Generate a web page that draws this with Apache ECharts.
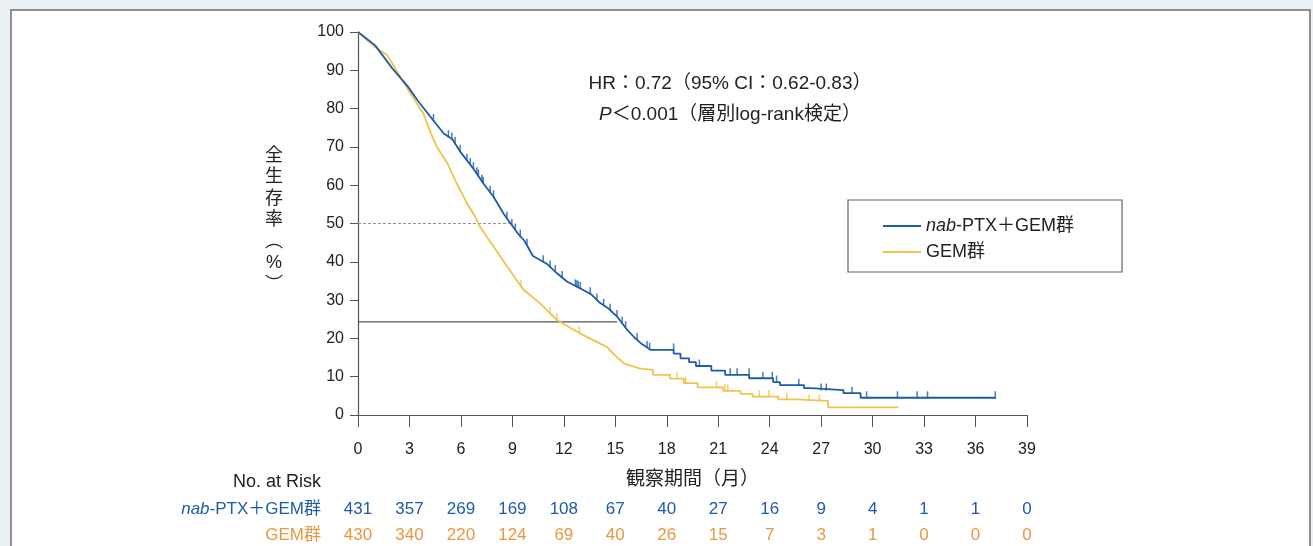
<!DOCTYPE html>
<html>
<head>
<meta charset="utf-8">
<script src="https://cdn.jsdelivr.net/npm/echarts@6/dist/echarts.min.js"></script>
<style>
    html, body {
        margin: 0;
        padding: 0;
        background: #eaeff4;
    }
    #main {
        width: 1313px;
        height: 546px;
    }
</style>
</head>
<body>
<div id="main"></div>
<script>
    // KM curve vertices [month, %]
    const nabCurve = [
        [0, 100], [1, 96.5], [2, 90.5], [2.9, 85.8], [3.5, 82], [4.2, 78], [5, 73.5], [5.5, 72],
        [6, 68.5], [6.7, 64.5], [7.3, 60.5], [7.9, 57], [8.5, 52.5], [8.9, 50], [9.3, 47.5],
        [9.7, 45.5], [10.2, 41.5], [11, 39.5], [11.6, 37], [12.2, 34.8], [13.1, 32.7], [13.6, 31.5],
        [14.1, 29.3], [14.6, 27.8], [15.1, 25.7], [15.7, 22.2], [16.1, 20.3], [16.5, 18.7],
        [16.8, 17.8], [17.05, 17],
        [18.4, 17], [18.4, 16], [18.8, 16], [18.8, 14.8], [19.3, 14.8], [19.3, 13.8], [19.7, 13.8],
        [19.7, 12.8], [20.6, 12.8], [20.6, 11.6], [21.4, 11.6], [21.4, 10.5], [22.8, 10.5],
        [22.8, 9.6], [24.2, 9.6], [24.2, 8.6], [24.6, 8.6], [24.6, 7.8], [26.0, 7.8], [26.0, 7.0],
        [26.4, 7.0], [26.4, 6.5], [28.3, 6.5], [28.3, 5.7], [29.3, 5.7], [29.3, 4.5], [37.2, 4.5]
    ];
    const gemCurve = [
        [0, 100], [1, 96], [1.7, 94], [2.45, 88.4], [3.05, 84], [3.8, 78.8], [4.3, 73], [4.6, 70],
        [5.2, 65.8], [5.75, 60.5], [6.35, 55.3], [6.8, 52], [7.1, 49.2], [7.9, 44], [8.7, 38.7],
        [9.2, 35.5], [9.65, 32.7], [10.6, 29.2], [11.1, 27], [11.6, 24.8], [12.6, 22.2],
        [13.5, 20], [14.5, 17.8], [15.0, 15.5], [15.5, 13.5], [16.4, 12.2], [16.5, 11.8],
        [17.2, 11.8], [17.2, 10.5], [18.2, 10.5], [18.2, 9.5], [19.0, 9.5], [19.0, 8.3],
        [19.8, 8.3], [19.8, 7.2], [21.3, 7.2], [21.3, 6.3], [22.3, 6.3], [22.3, 5.5], [23.0, 5.5],
        [23.0, 4.8], [24.5, 4.8], [24.5, 4.1], [25.5, 4.1], [25.5, 3.7], [27.4, 3.7], [27.4, 2.0],
        [31.5, 2.0]
    ];
    // censoring times (months)
    const nabCensor = [4.4, 5.27, 5.47, 5.66, 5.95, 6.35, 6.54, 6.73, 6.93, 7.02, 7.22, 7.3, 7.7, 7.9,
        8.68, 8.97, 9.17, 9.46, 9.85, 10.8, 11.2, 11.5, 11.9, 12.67, 12.76, 12.84, 12.96,
        13.54, 13.93, 14.32, 14.7, 15.1, 15.4, 15.6, 16.27, 16.85, 17.0, 18.4, 19.9, 21.7, 22.1,
        22.8, 23.6, 24.15, 24.4, 25.7, 27.0, 27.3, 28.8, 29.65, 31.45, 32.6, 33.2, 37.15];
    const gemCensor = [9.5, 11.2, 11.6, 12.9, 18.6, 19.1, 20.9, 21.4, 21.56, 23.4, 23.95, 25.0,
        26.3, 26.9];
    // reference lines
    const medianLine = [[0, 50], [8.85, 50]];
    const quarterLine = [[0, 24.3], [15.1, 24.3]];

    const riskTimes = [0, 3, 6, 9, 12, 15, 18, 21, 24, 27, 30, 33, 36, 39];
    const riskNab = [431, 357, 269, 169, 108, 67, 40, 27, 16, 9, 4, 1, 1, 0];
    const riskGem = [430, 340, 220, 124, 69, 40, 26, 15, 7, 3, 1, 0, 0, 0];

    const nabName = 'nab-PTX＋GEM群';
    const gemName = 'GEM群';
    const blue = '#1d5bab';
    const yellow = '#f1c34c';
    const orange = '#e8983e';
    const font = '"Liberation Sans", "Noto Sans CJK JP", sans-serif';

    function survAt(curve, t) {
        for (let i = 0; i < curve.length - 1; i++) {
            let a = curve[i], b = curve[i + 1];
            if (b[0] > a[0] && t >= a[0] && t <= b[0]) {
                return a[1] + (b[1] - a[1]) * (t - a[0]) / (b[0] - a[0]);
            }
        }
        return curve[curve.length - 1][1];
    }

    let chart = echarts.init(document.getElementById('main'));
    let option = {
        backgroundColor: '#eaeff4',
        animation: false,
        textStyle: {fontFamily: font},
        grid: {left: 358, right: 286, top: 32, bottom: 131},
        legend: {
            orient: 'vertical',
            left: 878,
            top: 212,
            itemGap: 8,
            itemWidth: 38,
            itemHeight: 2,
            icon: 'rect',
            data: [nabName, gemName],
            formatter: function (name) {
                return name === nabName ? '{i|nab}{n|-PTX＋GEM群}' : '{n|GEM群}';
            },
            textStyle: {
                color: '#222',
                fontSize: 18,
                rich: {
                    i: {fontSize: 18, fontStyle: 'italic', color: '#222', fontFamily: font},
                    n: {fontSize: 18, color: '#222', fontFamily: font}
                }
            }
        },
        xAxis: {
            type: 'value',
            min: 0,
            max: 39,
            interval: 3,
            name: '観察期間（月）',
            nameLocation: 'middle',
            nameGap: 55,
            nameTextStyle: {fontSize: 19, color: '#222', fontFamily: font},
            axisLine: {lineStyle: {color: '#555', width: 1.2}},
            axisTick: {length: 12, lineStyle: {color: '#555'}},
            axisLabel: {margin: 27, fontSize: 16, color: '#222'},
            splitLine: {show: false}
        },
        yAxis: {
            type: 'value',
            min: 0,
            max: 100,
            interval: 10,
            axisLine: {show: true, lineStyle: {color: '#555', width: 1.2}},
            axisTick: {show: true, length: 8, lineStyle: {color: '#555'}},
            axisLabel: {margin: 14, fontSize: 16, color: '#222'},
            splitLine: {show: false}
        },
        series: [
            {
                name: nabName,
                type: 'line',
                data: nabCurve,
                showSymbol: false,
                color: blue,
                lineStyle: {color: blue, width: 1.8},
                z: 4
            },
            {
                name: gemName,
                type: 'line',
                data: gemCurve,
                showSymbol: false,
                color: yellow,
                lineStyle: {color: yellow, width: 1.8},
                z: 3
            },
            {
                type: 'scatter',
                data: nabCensor.map(t => [t, survAt(nabCurve, t)]),
                symbol: 'rect',
                symbolSize: [1.5, 7],
                symbolOffset: [0, -3],
                itemStyle: {color: blue},
                z: 5
            },
            {
                type: 'scatter',
                data: gemCensor.map(t => [t, survAt(gemCurve, t)]),
                symbol: 'rect',
                symbolSize: [1.5, 7],
                symbolOffset: [0, -3],
                itemStyle: {color: yellow},
                z: 3
            },
            {
                type: 'line',
                data: medianLine,
                showSymbol: false,
                lineStyle: {color: '#8c90b4', width: 1.2, type: [3, 2]},
                z: 2
            },
            {
                type: 'line',
                data: quarterLine,
                showSymbol: false,
                lineStyle: {color: '#555', width: 1.2},
                z: 2
            }
        ]
    }
    chart.setOption(option);

    // frame, annotation, legend box, y title, risk table
    let graphics = [
        {
            type: 'rect', z: -10, silent: true,
            shape: {x: 11, y: 10, width: 1299, height: 560},
            style: {fill: '#fff', stroke: '#6e6e6e', lineWidth: 1.5}
        },
        {
            type: 'rect', z: 1,
            shape: {x: 848, y: 200, width: 274, height: 72},
            style: {fill: 'none', stroke: '#666', lineWidth: 1.2}
        },
        {
            type: 'text', x: 730, y: 84,
            style: {
                text: 'HR：0.72（95% CI：0.62-0.83）',
                font: '19px ' + font, fill: '#222', align: 'center', verticalAlign: 'middle'
            }
        },
        {
            type: 'text', x: 730, y: 115,
            style: {
                text: '{i|P}＜0.001（層別log-rank検定）',
                font: '19px ' + font, fill: '#222', align: 'center', verticalAlign: 'middle',
                rich: {i: {fontStyle: 'italic', fontSize: 19, fontFamily: font, fill: '#222'}}
            }
        },
        {
            type: 'text', x: 274, y: 145,
            style: {
                text: '全\n生\n存\n率\n︵\n%\n︶',
                font: '18px ' + font, fill: '#222', align: 'center', lineHeight: 21.5
            }
        },
        {
            type: 'text', x: 321, y: 482,
            style: {
                text: 'No. at Risk', font: '18px ' + font, fill: '#222',
                align: 'right', verticalAlign: 'middle'
            }
        },
        {
            type: 'text', x: 321, y: 509,
            style: {
                text: '{i|nab}-PTX＋GEM群', font: '17px ' + font, fill: blue,
                align: 'right', verticalAlign: 'middle',
                rich: {i: {fontStyle: 'italic', fontSize: 17, fontFamily: font, fill: blue}}
            }
        },
        {
            type: 'text', x: 321, y: 535,
            style: {
                text: 'GEM群', font: '17px ' + font, fill: orange,
                align: 'right', verticalAlign: 'middle'
            }
        }
    ];
    for (let i = 0; i < riskTimes.length; i++) {
        let px = chart.convertToPixel({gridIndex: 0}, [riskTimes[i], 0])[0];
        graphics.push({
            type: 'text', x: px, y: 509,
            style: {text: String(riskNab[i]), font: '17px ' + font, fill: blue, align: 'center', verticalAlign: 'middle'}
        });
        graphics.push({
            type: 'text', x: px, y: 535,
            style: {text: String(riskGem[i]), font: '17px ' + font, fill: orange, align: 'center', verticalAlign: 'middle'}
        });
    }
    chart.setOption({graphic: graphics});
</script>
</body>
</html>
